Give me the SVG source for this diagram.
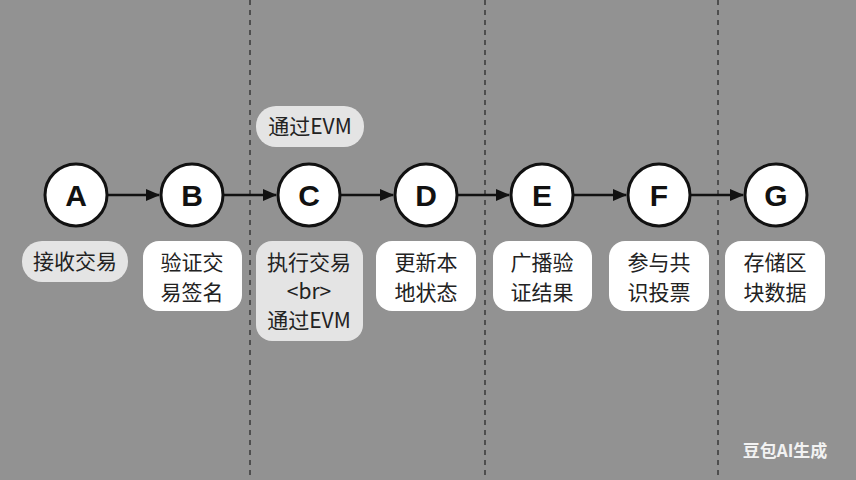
<svg xmlns="http://www.w3.org/2000/svg" width="856" height="480" viewBox="0 0 856 480">
<defs>
<marker id="arr" viewBox="0 0 14 12" refX="13" refY="6" markerWidth="14" markerHeight="12" markerUnits="userSpaceOnUse" orient="auto"><path d="M0,0 L14,6 L0,12 z" fill="#111"/></marker>
<style>
.lane{stroke:#222;stroke-width:1.2;stroke-dasharray:5,5}
.node circle{fill:#fff;stroke:#111;stroke-width:3}
.node .letter{font-family:"Liberation Sans",Arial,sans-serif;font-weight:bold;font-size:30px;fill:#111;text-anchor:middle}
.lbl{font-family:"Noto Sans CJK SC","Liberation Sans",sans-serif;font-size:21px;fill:#222;text-anchor:middle}
.w{fill:#fff}
.g{fill:#e4e4e4}
.edge{stroke:#111;stroke-width:2.5;fill:none;marker-end:url(#arr)}
</style>
</defs>
<rect width="856" height="480" fill="#929292"/>
<g id="lanes">
<line class="lane" x1="250" y1="0" x2="250" y2="480"/>
<line class="lane" x1="485" y1="0" x2="485" y2="480"/>
<line class="lane" x1="718" y1="0" x2="718" y2="480"/>
</g>
<g id="connectors">
<line class="edge" x1="108" y1="195" x2="159" y2="195"/>
<line class="edge" x1="224" y1="195" x2="276" y2="195"/>
<line class="edge" x1="341" y1="195" x2="393" y2="195"/>
<line class="edge" x1="458" y1="195" x2="509" y2="195"/>
<line class="edge" x1="574" y1="195" x2="626" y2="195"/>
<line class="edge" x1="691" y1="195" x2="743" y2="195"/>
</g>
<g id="nodeA" class="node"><circle cx="76" cy="195" r="31"/><text class="letter" x="76" y="206">A</text>
<rect class="g" x="22" y="241" width="106" height="41" rx="20"/><text class="lbl" x="75" y="269">接收交易</text></g>
<g id="nodeB" class="node"><circle cx="192" cy="195" r="31"/><text class="letter" x="192" y="206">B</text>
<rect class="w" x="143" y="241" width="99" height="70" rx="16"/><text class="lbl" x="192" y="270">验证交</text><text class="lbl" x="192" y="300">易签名</text></g>
<g id="nodeC" class="node"><circle cx="309" cy="195" r="31"/><text class="letter" x="309" y="206">C</text>
<rect class="g" x="256" y="106" width="108" height="41" rx="20"/><text class="lbl" x="310" y="134">通过EVM</text>
<rect class="g" x="256" y="241" width="107" height="100" rx="16"/><text class="lbl" x="309" y="270">执行交易</text><text class="lbl" x="309" y="299">&lt;br&gt;</text><text class="lbl" x="309" y="328">通过EVM</text></g>
<g id="nodeD" class="node"><circle cx="426" cy="195" r="31"/><text class="letter" x="426" y="206">D</text>
<rect class="w" x="376" y="241" width="100" height="70" rx="16"/><text class="lbl" x="426" y="270">更新本</text><text class="lbl" x="426" y="300">地状态</text></g>
<g id="nodeE" class="node"><circle cx="542" cy="195" r="31"/><text class="letter" x="542" y="206">E</text>
<rect class="w" x="493" y="241" width="99" height="70" rx="16"/><text class="lbl" x="542" y="270">广播验</text><text class="lbl" x="542" y="300">证结果</text></g>
<g id="nodeF" class="node"><circle cx="659" cy="195" r="31"/><text class="letter" x="659" y="206">F</text>
<rect class="w" x="609" y="241" width="100" height="70" rx="16"/><text class="lbl" x="659" y="270">参与共</text><text class="lbl" x="659" y="300">识投票</text></g>
<g id="nodeG" class="node"><circle cx="776" cy="195" r="31"/><text class="letter" x="776" y="206">G</text>
<rect class="w" x="725" y="241" width="100" height="70" rx="16"/><text class="lbl" x="775" y="270">存储区</text><text class="lbl" x="775" y="300">块数据</text></g>
<text x="785" y="457" font-family="Noto Sans CJK SC,sans-serif" font-weight="bold" font-size="17" fill="#f2f2f2" text-anchor="middle">豆包AI生成</text>
</svg>
